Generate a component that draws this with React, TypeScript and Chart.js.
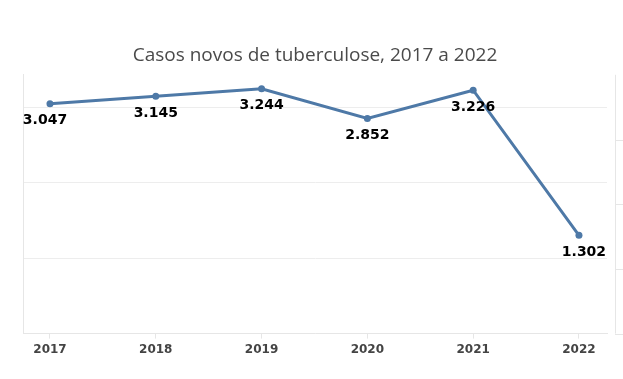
import React, { useEffect, useRef } from 'react';
import { Chart, registerables } from 'chart.js';

Chart.register(...registerables);

const years = [2017, 2018, 2019, 2020, 2021, 2022];
const cases = [3047, 3145, 3244, 2852, 3226, 1302];
const yTicks = [0, 1000, 2000, 3000];
const titleText = 'Casos novos de tuberculose, 2017 a 2022';

const fmt = (v: number) => String(v).replace(/\B(?=(\d{3})+(?!\d))/g, '.');

const LINE = '#4e79a7';
const GRID = '#ededed';

const labelPlugin = {
  id: 'pointLabels',
  afterDatasetsDraw(chart: any) {
    const meta = chart.getDatasetMeta(0);
    const ctx = chart.ctx;
    ctx.save();
    ctx.font = 'bold 14px "DejaVu Sans"';
    ctx.fillStyle = '#000';
    ctx.textAlign = 'center';
    ctx.textBaseline = 'middle';
    const n = meta.data.length;
    meta.data.forEach((pt: any, i: number) => {
      const shift = i === 0 ? -5 : i === n - 1 ? 5 : 0;
      ctx.fillText(fmt(cases[i]), pt.x + shift, pt.y + 17);
    });
    ctx.restore();
  },
};

const sidePanePlugin = {
  id: 'sidePane',
  afterDraw(chart: any) {
    const { ctx, chartArea, width } = chart;
    const x0 = chartArea.right + 8;
    ctx.save();
    ctx.strokeStyle = '#e6e6e6';
    ctx.lineWidth = 1;
    ctx.beginPath();
    ctx.moveTo(x0 + 0.5, chartArea.top);
    ctx.lineTo(x0 + 0.5, chartArea.bottom);
    const step = (chartArea.bottom - chartArea.top) / 4;
    for (let k = 0; k < 4; k++) {
      const y = Math.round(chartArea.bottom - k * step) + 0.5;
      ctx.moveTo(x0, y);
      ctx.lineTo(width, y);
    }
    ctx.stroke();
    ctx.restore();
  },
};

export default function App() {
  const ref = useRef<HTMLCanvasElement | null>(null);
  useEffect(() => {
    if (!ref.current) return;
    const chart = new Chart(ref.current, {
      type: 'line',
      data: {
        datasets: [
          {
            data: years.map((y, i) => ({ x: y, y: cases[i] })),
            borderColor: LINE,
            backgroundColor: LINE,
            borderWidth: 3,
            pointRadius: 3.5,
            pointHoverRadius: 3.5,
            pointBorderWidth: 0,
            tension: 0,
          },
        ],
      },
      options: {
        responsive: false,
        animation: false,
        layout: { padding: { left: 23, right: 16, top: 0, bottom: 18 } },
        plugins: {
          legend: { display: false },
          tooltip: { enabled: false },
          title: {
            display: true,
            text: titleText,
            color: '#4a4a4a',
            font: { family: '"Open Sans"', size: 19, weight: 'normal' },
            padding: { top: 44, bottom: 8 },
          },
        },
        scales: {
          x: {
            type: 'linear',
            min: 2016.745,
            max: 2022.265,
            afterBuildTicks: (axis: any) => {
              axis.ticks = years.map((v) => ({ value: v }));
            },
            grid: {
              drawOnChartArea: false,
              drawTicks: true,
              tickLength: 5,
              color: '#e6e6e6',
            },
            border: { display: true, color: '#e6e6e6' },
            ticks: {
              padding: 4,
              color: '#444',
              font: { family: '"DejaVu Sans"', size: 12, weight: 'bold' },
              callback: (v: any) => String(v),
              maxRotation: 0,
              autoSkip: false,
            },
          },
          y: {
            min: 0,
            max: 3430,
            afterBuildTicks: (axis: any) => {
              axis.ticks = yTicks.map((v) => ({ value: v }));
            },
            grid: { color: GRID, drawTicks: false },
            border: { display: true, color: '#e6e6e6' },
            ticks: { display: false },
          },
        },
      },
      plugins: [labelPlugin, sidePanePlugin],
    });
    return () => chart.destroy();
  }, []);
  return (
    <div style={{ position: 'fixed', left: 0, top: 0, width: 623, height: 379, background: '#fff' }}>
      <canvas ref={ref} width={623} height={379} style={{ width: 623, height: 379, display: 'block' }} />
    </div>
  );
}
